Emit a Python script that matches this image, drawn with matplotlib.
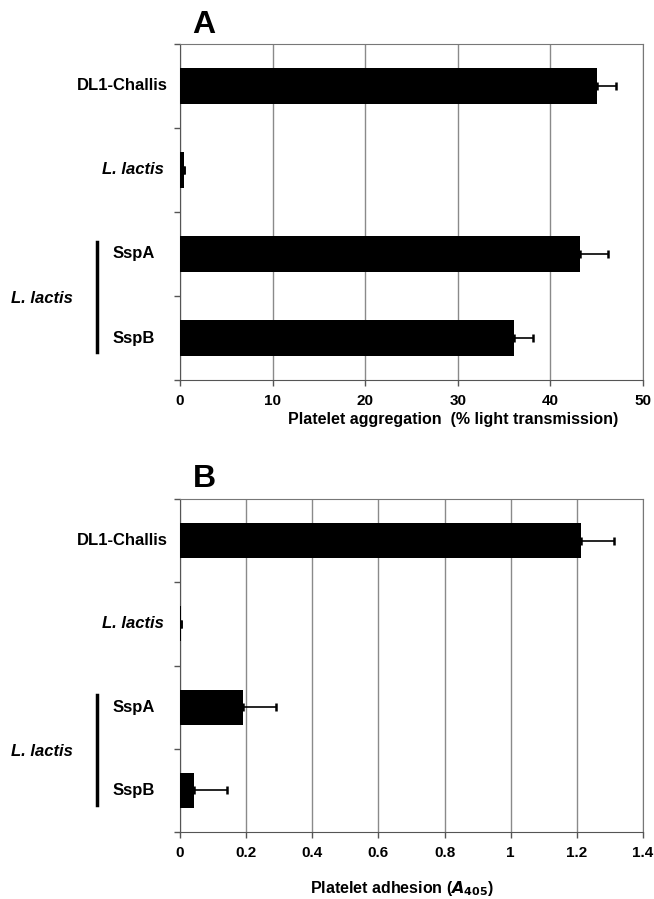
import numpy as np
import matplotlib
matplotlib.use('Agg')
import matplotlib.pyplot as plt
import matplotlib.transforms as mtransforms

plt.rcParams['font.family'] = ['Liberation Sans', 'DejaVu Sans']
plt.rcParams['font.weight'] = 'bold'

strains = ['DL1-Challis', 'L. lactis', 'SspA', 'SspB']
aggregation = [45.0, 0.4, 43.2, 36.1]
aggregation_err = [2.1, 0.0, 3.0, 2.0]
adhesion = [1.213, 0.003, 0.19, 0.043]
adhesion_err = [0.10, 0.0, 0.10, 0.10]

fig = plt.figure(figsize=(6.54, 8.99), dpi=100)


def draw_panel(ax, values, errs, xmax, xstep, xticklabels, xlabel, xlabel_pos,
               letter, letter_y):
    y = np.arange(len(strains))
    ax.set_xlim(0, xmax)
    ax.set_ylim(len(strains) - 0.5, -0.5)
    ax.set_xticks(np.arange(0, xmax + xstep / 2, xstep))
    ax.set_xticklabels(xticklabels, fontsize=11, fontweight='bold')
    ax.xaxis.grid(True, color='#8a8a8a', linewidth=1)
    ax.set_axisbelow(True)
    ax.barh(y, values, height=0.42, color='black', zorder=3)
    # only the positive arm is drawn; the left cap hides under the bar
    ax.errorbar(values, y, xerr=[np.zeros(len(errs)), errs], fmt='none',
                ecolor='black', elinewidth=1.2, capsize=2.6, capthick=1.8, zorder=2.5)
    ax.set_yticks(np.arange(-0.5, len(strains)))
    ax.set_yticklabels([])
    ax.tick_params(axis='y', length=4, width=1, color='#555555')
    ax.tick_params(axis='x', length=4, width=1, color='#555555', pad=6)
    for s in ['left', 'bottom']:
        ax.spines[s].set_color('#555555')
    for s in ['top', 'right']:
        ax.spines[s].set_color('#777777')
    ax.set_xlabel(xlabel, fontsize=11.5, fontweight='bold', va='center')
    ax.xaxis.set_label_coords(*xlabel_pos)

    tr = mtransforms.blended_transform_factory(fig.transFigure, ax.transData)
    ax.text(0.257, 0, strains[0], transform=tr, ha='right', va='center',
            fontsize=12, fontweight='bold')
    ax.text(0.250, 1, strains[1], transform=tr, ha='right', va='center',
            fontsize=12, fontweight='bold', style='italic')
    for i in (2, 3):
        ax.text(0.172, i, strains[i], transform=tr, ha='left', va='center',
                fontsize=12, fontweight='bold')
    ax.plot([0.149, 0.149], [1.86, 3.17], transform=tr, color='black',
            linewidth=2.5, clip_on=False)
    ax.text(0.064, 2.53, 'L. lactis', transform=tr, ha='center', va='center',
            fontsize=12, fontweight='bold', style='italic')
    fig.text(0.312, letter_y, letter, ha='center', va='bottom',
             fontsize=23, fontweight='bold')


ax_a = fig.add_axes([0.2752, 0.5773, 0.708, 0.3738])
draw_panel(ax_a, aggregation, aggregation_err, 50, 10,
           ['0', '10', '20', '30', '40', '50'],
           'Platelet aggregation  (% light transmission)', (0.59, -0.118), 'A', 0.955)

ax_b = fig.add_axes([0.2752, 0.0745, 0.708, 0.3704])
draw_panel(ax_b, adhesion, adhesion_err, 1.4, 0.2,
           ['0', '0.2', '0.4', '0.6', '0.8', '1', '1.2', '1.4'],
           'Platelet adhesion ($\\boldsymbol{A}_{\\mathbf{405}}$)', (0.48, -0.17), 'B', 0.451)

fig.savefig('out.png', dpi=100)
